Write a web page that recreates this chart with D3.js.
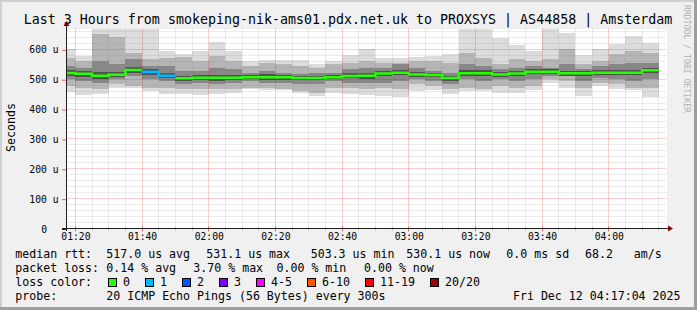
<!DOCTYPE html>
<html>
<head>
<meta charset="utf-8">
<script src="https://cdn.jsdelivr.net/npm/d3@7"></script>
<style>
  body { margin: 0; background: #f0f0f0; }
  text { font-family: "DejaVu Sans Mono", monospace; fill: #000; }
</style>
</head>
<body>
<div id="chart"></div>
<script>
// Chart size
const svgWidth = 697;
const svgHeight = 310;

// Bar end times (5 min steps, rrd data points)
const times = ["01:20","01:25","01:30","01:35","01:40","01:45","01:50","01:55","02:00","02:05","02:10","02:15",
               "02:20","02:25","02:30","02:35","02:40","02:45","02:50","02:55","03:00","03:05","03:10","03:15",
               "03:20","03:25","03:30","03:35","03:40","03:45","03:50","03:55","04:00","04:05","04:10","04:15"];

// values in microseconds
const median = [521,518,512,515,531,525,512,503,505,505,505,507,507,507,504,504,507,511,512,519,522,516,514,504,
                520,520,516,519,525,525,520,520,522,522,522,530];
const maxPing = [600,578,668,668,668,668,596,585,594,625,594,561,566,563,566,552,561,580,600,572,572,575,578,585,
                 668,668,639,616,594,668,655,581,600,619,644,622];
const upper1 = [572,561,650,640,589,567,572,574,561,578,561,544,555,550,544,539,550,555,561,555,555,561,561,555,
                589,572,550,567,561,567,600,550,561,583,594,589];
const upper2 = [544,539,561,550,567,544,544,528,528,539,533,522,528,522,517,522,522,533,539,539,550,539,528,522,
                550,544,533,539,544,539,550,533,544,550,555,555];
const coreHi = [530,527,524,524,540,535,522,512,514,515,514,515,516,515,512,512,515,520,521,528,531,524,522,512,
                530,530,524,528,534,533,528,527,531,531,532,539];
const coreLo = [512,508,502,506,520,515,503,494,496,495,497,500,499,499,496,496,500,503,502,510,513,507,506,494,
                512,511,508,510,516,517,511,510,514,513,513,520];
const lower2 = [500,494,489,500,511,500,494,483,489,483,489,494,489,489,483,483,494,489,489,489,494,500,494,483,
                500,494,500,494,500,511,511,494,505,500,494,500];
const lower1 = [478,472,467,483,478,472,472,467,467,467,467,472,472,467,461,455,472,472,467,472,467,483,478,467,
                472,467,478,472,478,500,494,472,489,483,472,472];
const minPing = [457,447,452,472,470,459,452,452,447,450,455,466,463,463,455,444,455,452,447,444,439,461,463,452,
                 461,461,455,455,463,489,470,444,478,466,463,441];
// lost pings out of 20 per step
const loss = [0,0,0,0,0,1,1,0,0,0,0,0,0,0,0,0,0,0,0,0,0,0,0,0,0,0,0,0,0,0,0,0,0,0,0,0];

// loss colour legend
const lossLabels = ["0","1","2","3","4-5","6-10","11-19","20/20"];
const lossColors = ["#26ff00","#00b8ff","#0059ff","#7e00ff","#ff00ff","#ff5500","#ff0000","#a10000"];

const yTicks = [0,100,200,300,400,500,600];

const parseT = s => {
  const [h, m] = s.split(":").map(Number);
  return new Date(Date.UTC(2025, 11, 12, h, m, 0));
};

const svg = d3.select("#chart").append("svg")
  .attr("width", svgWidth)
  .attr("height", svgHeight);

// background + 3d frame
svg.append("rect").attr("width", svgWidth).attr("height", svgHeight).attr("fill", "#f0f0f0");
svg.append("rect").attr("x", 0).attr("y", 0).attr("width", svgWidth).attr("height", 2).attr("fill", "#cfcfcf");
svg.append("rect").attr("x", 0).attr("y", 0).attr("width", 2).attr("height", svgHeight).attr("fill", "#cfcfcf");
svg.append("rect").attr("x", 0).attr("y", svgHeight - 3).attr("width", svgWidth).attr("height", 3).attr("fill", "#9e9e9e");
svg.append("rect").attr("x", svgWidth - 3).attr("y", 0).attr("width", 3).attr("height", svgHeight).attr("fill", "#9e9e9e");

// plot canvas
const pLeft = 66.5, pRight = 666.5, pTop = 28.5, pBottom = 228.5;
svg.append("rect").attr("x", 67).attr("y", 29).attr("width", 600).attr("height", 200).attr("fill", "#fff");

const x = d3.scaleUtc()
  .domain([new Date(Date.UTC(2025, 11, 12, 1, 17, 20)), new Date(Date.UTC(2025, 11, 12, 4, 17, 20))])
  .range([pLeft, pRight]);
const y = d3.scaleLinear().domain([0, 670]).range([pBottom, pTop]);

const plot = svg.append("g");
const clip = svg.append("clipPath").attr("id", "cv");
clip.append("rect").attr("x", 67).attr("y", 29).attr("width", 600).attr("height", 200);
plot.attr("clip-path", "url(#cv)");

// smoke bands, light to dark
const bands = [
  [maxPing, minPing, "#dcdcdc"],
  [upper1, lower1, "#b5b5b5"],
  [upper2, lower2, "#878787"],
  [coreHi, coreLo, "#505050"]
];
const step = 5 * 60 * 1000;
bands.forEach(([hi, lo, col]) => {
  plot.selectAll(null)
    .data(times)
    .enter()
    .append("rect")
    .attr("x", d => Math.max(x(new Date(parseT(d) - step)), pLeft))
    .attr("width", d => x(parseT(d)) - Math.max(x(new Date(parseT(d) - step)), pLeft))
    .attr("y", (d, i) => y(hi[i]))
    .attr("height", (d, i) => y(lo[i]) - y(hi[i]))
    .attr("fill", col)
    .attr("shape-rendering", "crispEdges");
});

// grid (drawn over the smoke like rrdtool)
const grid = svg.append("g");
const minorT = d3.utcMinute.every(5).range(x.domain()[0], x.domain()[1]);
const px = v => Math.floor(v) + 0.5;
minorT.filter(t => t.getUTCMinutes() % 20 !== 0).forEach(t => {
  grid.append("line").attr("x1", px(x(t))).attr("x2", px(x(t))).attr("y1", pTop).attr("y2", pBottom)
    .attr("stroke", "#8f8f8f").attr("stroke-opacity", 0.35).attr("stroke-dasharray", "1,1");
  grid.append("line").attr("x1", px(x(t))).attr("x2", px(x(t))).attr("y1", pBottom - 2).attr("y2", pBottom + 2)
    .attr("stroke", "#8f8f8f").attr("stroke-opacity", 0.5);
});
d3.range(20, 670, 20).filter(v => v % 100 !== 0).forEach(v => {
  grid.append("line").attr("x1", pLeft).attr("x2", pRight).attr("y1", px(y(v))).attr("y2", px(y(v)))
    .attr("stroke", "#8f8f8f").attr("stroke-opacity", 0.35).attr("stroke-dasharray", "1,1");
});
const majorT = minorT.filter(t => t.getUTCMinutes() % 20 === 0);
majorT.forEach(t => {
  grid.append("line").attr("x1", px(x(t))).attr("x2", px(x(t))).attr("y1", pTop).attr("y2", pBottom)
    .attr("stroke", "#f00000").attr("stroke-opacity", 0.38).attr("stroke-dasharray", "1,1");
  grid.append("line").attr("x1", px(x(t))).attr("x2", px(x(t))).attr("y1", pBottom - 2).attr("y2", pBottom + 3)
    .attr("stroke", "#f00000").attr("stroke-opacity", 0.6);
});
yTicks.filter(v => v > 0).forEach(v => {
  grid.append("line").attr("x1", pLeft).attr("x2", pRight).attr("y1", px(y(v))).attr("y2", px(y(v)))
    .attr("stroke", "#f00000").attr("stroke-opacity", 0.38).attr("stroke-dasharray", "1,1");
});

// median line, one stepped line per loss colour
const pts = [];
times.forEach((d, i) => {
  const x0 = Math.max(x(new Date(parseT(d) - step)), pLeft);
  const x1 = x(parseT(d));
  pts.push({ x: x0, y: y(median[i]), i: i });
  pts.push({ x: x1, y: y(median[i]), i: i });
});
const lossIdx = n => n === 0 ? 0 : n === 1 ? 1 : n === 2 ? 2 : n === 3 ? 3 : n <= 5 ? 4 : n <= 10 ? 5 : n < 20 ? 6 : 7;
lossColors.forEach((col, c) => {
  const line = d3.line()
    .defined(p => lossIdx(loss[p.i]) === c)
    .x(p => p.x).y(p => p.y);
  svg.append("path")
    .attr("d", line(pts))
    .attr("fill", "none")
    .attr("stroke", col)
    .attr("stroke-width", 2.5);
});

// axes
const xAxis = svg.append("g")
  .attr("transform", `translate(0, ${pBottom})`)
  .call(d3.axisBottom(x).ticks(d3.utcMinute.every(20)).tickFormat(d3.utcFormat("%H:%M")).tickSize(0).tickPadding(5));
xAxis.select(".domain").remove();
xAxis.selectAll("text").style("font-family", "DejaVu Sans Mono").style("font-size", "9.7px").attr("dy", "0.72em");

const yAxis = svg.append("g")
  .attr("transform", `translate(${pLeft}, 0)`)
  .call(d3.axisLeft(y).tickValues(yTicks).tickFormat(d => d === 0 ? "0" : d + " u").tickSize(0).tickPadding(8));
yAxis.select(".domain").remove();
yAxis.selectAll("text").style("font-family", "DejaVu Sans Mono").style("font-size", "9.7px").attr("dy", "0.36em")
  .attr("x", d => d === 0 ? -19.5 : -8);
yAxis.selectAll(".tick").append("line")
  .attr("x1", -4.5).attr("x2", 0).attr("y1", 0.5).attr("y2", 0.5)
  .attr("stroke", d => d === 0 ? "#1f1f1f" : "#f00000").attr("stroke-opacity", d => d === 0 ? 1 : 0.6);

// axis lines with arrows
svg.append("line").attr("x1", 62).attr("x2", 670).attr("y1", pBottom).attr("y2", pBottom).attr("stroke", "#1f1f1f");
svg.append("line").attr("x1", pLeft).attr("x2", pLeft).attr("y1", 231).attr("y2", 24).attr("stroke", "#1f1f1f");
svg.append("path").attr("d", "M668,225.5L673,228.5L668,231.5Z").attr("fill", "#7f0000");
svg.append("path").attr("d", "M63.5,26L66.5,21L69.5,26Z").attr("fill", "#7f0000");

// title
svg.append("text")
  .attr("x", 348).attr("y", 24)
  .attr("text-anchor", "middle")
  .style("font-size", "13.3px")
  .text("Last 3 Hours from smokeping-nik-ams01.pdx.net.uk to PROXSYS | AS44858 | Amsterdam");

// y label
svg.append("text")
  .attr("transform", "translate(15,127.5) rotate(-90)")
  .attr("text-anchor", "middle")
  .style("font-size", "11.6px")
  .text("Seconds");

// watermark
svg.append("text")
  .attr("transform", "translate(683.5,5) rotate(90)")
  .attr("textLength", 108)
  .attr("lengthAdjust", "spacingAndGlyphs")
  .style("font-size", "9px")
  .style("fill", "#b0b0b0")
  .text("RRDTOOL / TOBI OETIKER");

// legend
const legendRows = [
  [258, [[15.3, "median rtt:"], [106.3, "517.0 us avg"], [206.3, "531.1 us max"], [310.7, "503.3 us min"],
         [406.3, "530.1 us now"], [506.3, "0.0 ms sd"], [585, "68.2   am/s"]]],
  [272, [[15.3, "packet loss:"], [106.3, "0.14 % avg"], [193.3, "3.70 % max"], [276.5, "0.00 % min"],
         [364, "0.00 % now"]]],
  [286, [[15.3, "loss color:"]]],
  [300, [[15.3, "probe:"], [106.3, "20 ICMP Echo Pings (56 Bytes) every 300s"]]]
];
legendRows.forEach(([ly, items]) => {
  items.forEach(([lx, s]) => {
    svg.append("text").attr("x", lx).attr("y", ly).attr("xml:space", "preserve")
      .style("white-space", "pre").style("font-size", "11.6px").text(s);
  });
});
svg.append("text").attr("x", 680.5).attr("y", 300).attr("text-anchor", "end")
  .style("font-size", "11.6px").text("Fri Dec 12 04:17:04 2025");

const boxX = [108.5, 145.5, 182.5, 219.5, 256.5, 307.5, 365.5, 430.5];
lossLabels.forEach((lab, i) => {
  svg.append("rect").attr("x", boxX[i]).attr("y", 278.5).attr("width", 8).attr("height", 8)
    .attr("fill", lossColors[i]).attr("stroke", "#000");
  svg.append("text").attr("x", boxX[i] + 14.5).attr("y", 286).style("font-size", "11.6px").text(lab);
});
</script>
</body>
</html>
